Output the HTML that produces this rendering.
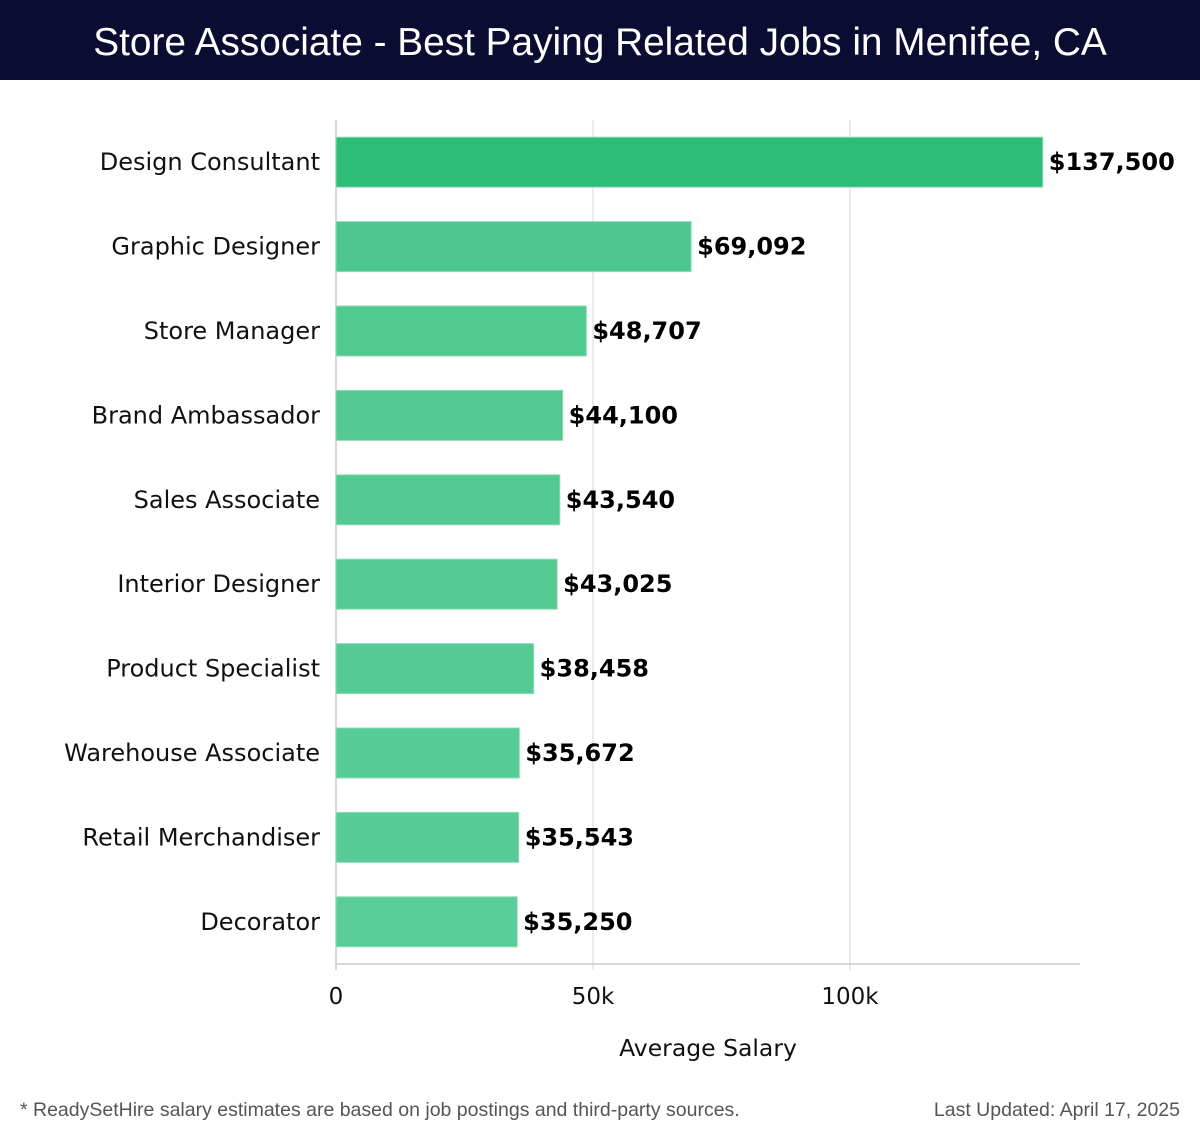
<!DOCTYPE html>
<html><head><meta charset="utf-8"><style>
body{margin:0;width:1200px;height:1140px;background:#fff;font-family:"DejaVu Sans","Liberation Sans",sans-serif;position:relative;overflow:hidden}
#hdr{position:absolute;left:0;top:0;width:1200px;height:80px;background:#0b0c32;color:#fff;font-size:38.8px;text-align:center;line-height:86px;font-family:"Liberation Sans","DejaVu Sans",sans-serif}
.foot{position:absolute;top:1099px;font-size:19.5px;color:#555;font-family:"Liberation Sans",sans-serif}
</style></head><body>
<div id="hdr">Store Associate - Best Paying Related Jobs in Menifee, CA</div>
<svg id="chart" width="1200" height="1090" style="position:absolute;left:0;top:0"></svg>
<div class="foot" style="left:20px">* ReadySetHire salary estimates are based on job postings and third-party sources.</div>
<div class="foot" style="right:20px">Last Updated: April 17, 2025</div>
<script>
const categories=["Design Consultant","Graphic Designer","Store Manager","Brand Ambassador","Sales Associate","Interior Designer","Product Specialist","Warehouse Associate","Retail Merchandiser","Decorator"];
const values=[137500,69092,48707,44100,43540,43025,38458,35672,35543,35250];
const valueLabels=["$137,500","$69,092","$48,707","$44,100","$43,540","$43,025","$38,458","$35,672","$35,543","$35,250"];
const tickValues=[0,50000,100000];
const tickLabels=["0","50k","100k"];
const NS="http://www.w3.org/2000/svg",svg=document.getElementById('chart');
const x0=336,pxPer=257/50000,top0=120,band=84.4,barH=50,axisY=964;
const X=v=>x0+v*pxPer, Y=i=>top0+i*band+(band-barH)/2;
function mk(t,a){const e=document.createElementNS(NS,t);for(const k in a)e.setAttribute(k,a[k]);svg.appendChild(e);return e;}
tickValues.forEach((v,i)=>{
 const g=mk('line',{x1:X(v),x2:X(v),y1:top0,y2:axisY+6,stroke:i==0?'#ccc':'#e4e4e4','stroke-width':1.5});
 
 
 const t=mk('text',{x:X(v),y:1004,'text-anchor':'middle','font-size':23,fill:'#111'});t.textContent=tickLabels[i];
 
 
});
const ax=mk('line',{x1:x0,x2:1080,y1:axisY,y2:axisY,stroke:'#ccc','stroke-width':1.5});


const cols=['#2dbd77','#4cc78e','#51ca90','#52ca91','#53ca92','#54cb93','#55cb94','#56cc96','#57cc97','#58cd98'];
categories.forEach((c,i)=>{
 const y=Y(i);
 const r=mk('rect',{x:x0,y:y,width:X(values[i])-x0,height:barH,fill:cols[i],stroke:'#8fdcb6','stroke-width':1});
 
 
 const l=mk('text',{x:320,y:y+barH/2+8,'text-anchor':'end','font-size':24,fill:'#111'});l.textContent=c;
 
 
 const v=mk('text',{x:X(values[i])+6,y:y+barH/2+8,'font-size':24,'font-weight':'bold',fill:'#000'});v.textContent=valueLabels[i];
 
 
});
const at=mk('text',{x:708,y:1056,'text-anchor':'middle','font-size':23.5,fill:'#111'});at.textContent='Average Salary';


</script>
</body></html>
